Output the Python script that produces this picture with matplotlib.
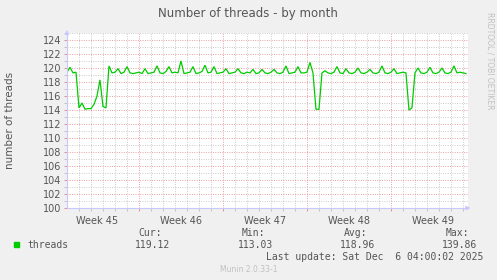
import numpy as np
import matplotlib.pyplot as plt
import matplotlib.transforms as mtransforms

# samples every 6 hours, day 1.0 = left edge of the graph
start_day = 1.0
step_days = 0.25
threads = [
    119.4, 120.1, 119.3, 119.4, 114.3, 115.0, 114.1, 114.2, 114.2, 114.8,
    116.0, 118.3, 114.5, 114.3, 120.3, 119.3, 119.4, 119.9, 119.2, 119.4,
    120.2, 119.3, 119.2, 119.3, 119.4, 119.2, 119.9, 119.2, 119.3, 119.4,
    120.3, 119.3, 119.2, 119.5, 120.2, 119.3, 119.4, 119.3, 121.0, 119.2,
    119.3, 119.4, 120.2, 119.2, 119.3, 119.5, 120.4, 119.3, 119.4, 120.2,
    119.2, 119.3, 119.4, 119.9, 119.2, 119.3, 119.4, 119.9, 119.3, 119.2,
    119.4, 119.3, 119.8, 119.2, 119.3, 119.8, 119.3, 119.2, 119.4, 119.8,
    119.3, 119.2, 119.4, 120.3, 119.2, 119.3, 119.4, 120.2, 119.3, 119.3,
    119.4, 120.8, 119.3, 114.1, 114.1, 119.3, 119.6, 119.3, 119.2, 119.4,
    120.2, 119.3, 119.2, 119.9, 119.3, 119.2, 119.4, 120.0, 119.3, 119.2,
    119.4, 119.8, 119.3, 119.2, 119.4, 120.3, 119.3, 119.2, 119.4, 119.9,
    119.2, 119.3, 119.4, 119.3, 114.0, 114.3, 119.3, 120.0, 119.3, 119.2,
    119.4, 120.1, 119.3, 119.2, 119.4, 120.0, 119.3, 119.2, 119.4, 120.3,
    119.3, 119.4, 119.3, 119.2,
]
week_starts = [7, 14, 21, 28]
week_labels = ["Week 45", "Week 46", "Week 47", "Week 48", "Week 49"]
week_centers = [3.5, 10.5, 17.5, 24.5, 31.5]
y_ticks = [100, 102, 104, 106, 108, 110, 112, 114, 116, 118, 120, 122, 124]
stats_heads = ["Cur:", "Min:", "Avg:", "Max:"]
stats_vals = ["119.12", "113.03", "118.96", "139.86"]

bg = "#F0F0F0"
txt = "#555555"
axis_col = "#C8C8FF"
minor_col = "#C4C4C4"
major_col = "#E49090"

days = start_day + step_days * np.arange(len(threads))

fig = plt.figure(figsize=(4.97, 2.80), dpi=100, facecolor=bg)
ax = fig.add_axes([67 / 497, 1 - 208 / 280, 401 / 497, 175.5 / 280])
ax.set_facecolor("white")
ax.set_xlim(1.0, 34.42)
ax.set_ylim(100, 125.07)

# grid, dotted like rrdtool
dot = (0, (1, 1.6))
ax.set_yticks(y_ticks)
ax.set_yticks(np.arange(101, 126, 2), minor=True)
ax.set_xticks(week_starts)
ax.set_xticks(np.arange(2, 35, 1), minor=True)
ax.grid(True, which="minor", color=minor_col, linestyle=dot, linewidth=0.65)
ax.grid(True, which="major", color=major_col, linestyle=dot, linewidth=0.65)
ax.set_axisbelow(True)
ax.set_xticklabels([])
ax.set_yticklabels([str(v) for v in y_ticks], fontsize=7, color=txt)
ax.tick_params(axis="y", which="both", length=2, width=0.7, colors=txt, pad=2)
ax.tick_params(axis="y", which="major", color=major_col)
ax.tick_params(axis="y", which="minor", color=minor_col)
ax.tick_params(axis="x", which="major", length=2, width=0.7, color=major_col, direction="out")
ax.tick_params(axis="x", which="minor", length=2, width=0.7, color=minor_col, direction="out")

for s in ["top", "right"]:
    ax.spines[s].set_visible(False)
for s in ["left", "bottom"]:
    ax.spines[s].set_color(axis_col)
    ax.spines[s].set_linewidth(0.8)

ax.annotate("", xy=(1.013, 0), xytext=(0.99, 0), xycoords="axes fraction",
            arrowprops=dict(arrowstyle="-|>", color=axis_col, lw=0.8, mutation_scale=6),
            annotation_clip=False)
ax.annotate("", xy=(0, 1.03), xytext=(0, 0.98), xycoords="axes fraction",
            arrowprops=dict(arrowstyle="-|>", color=axis_col, lw=0.8, mutation_scale=6),
            annotation_clip=False)

ax.plot(days, threads, color="#00CC00", linewidth=0.9, solid_joinstyle="miter")

tr = mtransforms.blended_transform_factory(ax.transData, ax.transAxes)
for xc, lab in zip(week_centers, week_labels):
    ax.text(xc, -0.045, lab, transform=tr, ha="center", va="top", fontsize=7, color=txt)

fig.text(248 / 497, 1 - 14 / 280, "Number of threads - by month", ha="center", va="center",
         fontsize=8.5, color=txt)
fig.text(10 / 497, 1 - 120 / 280, "number of threads", rotation=90, ha="center", va="center",
         fontsize=7.5, color=txt)
fig.text(490 / 497, 1 - 12 / 280, "RRDTOOL / TOBI OETIKER", rotation=270, ha="center", va="top",
         fontsize=5.5, color="#C0C0C0")

mono = "DejaVu Sans Mono"
fig.patches.append(plt.Rectangle((14 / 497, 1 - 247 / 280), 5 / 497, 5 / 280,
                                 transform=fig.transFigure, color="#00CC00"))
fig.text(27 / 497, 1 - 245 / 280, "threads", family=mono, fontsize=7, color=txt, va="center")
head_x = [162, 265, 367, 469]
val_x = [170, 273, 375, 477]
for hx, vx, h, v in zip(head_x, val_x, stats_heads, stats_vals):
    fig.text(hx / 497, 1 - 233 / 280, h, family=mono, fontsize=7, color=txt, ha="right", va="center")
    fig.text(vx / 497, 1 - 245 / 280, v, family=mono, fontsize=7, color=txt, ha="right", va="center")
fig.text(483 / 497, 1 - 257 / 280, "Last update: Sat Dec  6 04:00:02 2025", family=mono,
         fontsize=7, color=txt, ha="right", va="center")
fig.text(249 / 497, 1 - 269 / 280, "Munin 2.0.33-1", fontsize=5.5, color="#C0C0C0",
         ha="center", va="center")

fig.savefig("out.png", dpi=100, facecolor=bg)
